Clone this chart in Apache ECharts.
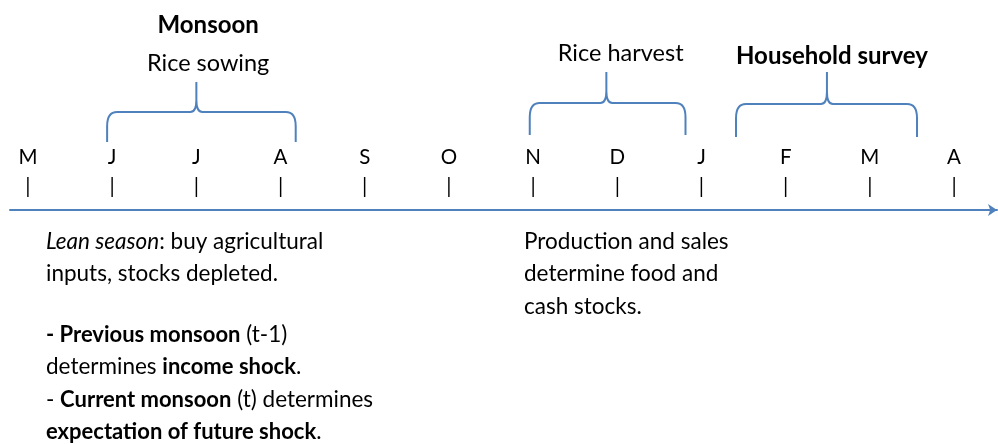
<!DOCTYPE html>
<html>
<head>
<meta charset="utf-8">
<script src="https://cdn.jsdelivr.net/npm/echarts@6/dist/echarts.min.js"></script>
<style>
  html, body { margin: 0; padding: 0; background: #fff; }
  #timeline { width: 998px; height: 444px; }
</style>
</head>
<body>
<div id="timeline"></div>
<script>
// months along the timeline (index = position on the x axis)
const months = ['M', 'J', 'J', 'A', 'S', 'O', 'N', 'D', 'J', 'F', 'M', 'A'];
const monthPos = [0, 1, 2, 3, 4, 5, 6, 7, 8, 9, 10, 11];

// braces: start / end / middle (month units), heights above the axis
const braceStart = [0.94, 5.96, 8.41];
const braceEnd = [3.18, 7.81, 10.56];
const braceMid = [2.0, 6.87, 9.49];
const braceFoot = [68, 75, 73];
const braceBar = [98, 107, 106];
const braceTip = [128, 138, 138];

// labels above each brace
const braceLabelX = [2.14, 7.04, 9.55];
const braceLabels = [
  '{b|Monsoon}\n{n|Rice sowing}',
  '{n|Rice harvest}',
  '{b|Household survey}'
];

const blue = '#4F81BD';
const font = 'Lato';

let chart = echarts.init(document.getElementById('timeline'));

const braceData = braceStart.map((s, i) => [s, braceEnd[i], braceMid[i], braceFoot[i], braceBar[i], braceTip[i], braceLabelX[i]]);

function renderBrace(params, api) {
  const i = params.dataIndex;
  const yb = api.coord([0, api.value(4)])[1];
  const yf = api.coord([0, api.value(3)])[1];
  const yt = api.coord([0, api.value(5)])[1];
  const x0 = api.coord([api.value(0), 0])[0];
  const x1 = api.coord([api.value(1), 0])[0];
  const xm = api.coord([api.value(2), 0])[0];
  const xl = api.coord([api.value(6), 0])[0];
  const rh = 10, rv = 14, mh = 6, mv = 12;
  const d =
    `M${x0},${yf} L${x0},${yb + rv} Q${x0},${yb} ${x0 + rh},${yb} L${xm - mh},${yb} Q${xm},${yb} ${xm},${yb - mv} L${xm},${yt} ` +
    `M${xm},${yb - mv} Q${xm},${yb} ${xm + mh},${yb} L${x1 - rh},${yb} Q${x1},${yb} ${x1},${yb + rv} L${x1},${yf}`;
  return {
    type: 'group',
    children: [
      {
        type: 'path',
        shape: { pathData: d },
        style: { fill: 'none', stroke: blue, lineWidth: 2 }
      },
      {
        type: 'text',
        x: xl,
        y: yt + (i === 2 ? 3 : 0),
        style: {
          text: braceLabels[i],
          align: 'center',
          verticalAlign: 'bottom',
          fill: '#000',
          rich: {
            b: { fontFamily: font, fontSize: 24, fontWeight: 'bold', lineHeight: 38, fill: '#000' },
            n: { fontFamily: font, fontSize: 23.5, lineHeight: 38, fill: '#000' }
          }
        }
      }
    ]
  };
}

const textRich = {
  n: { fontFamily: font, fontSize: 22.5, lineHeight: 32.5, fill: '#000' },
  i: { fontFamily: font, fontSize: 22.5, lineHeight: 32.5, fontStyle: 'italic', fill: '#000' },
  b: { fontFamily: font, fontSize: 22, lineHeight: 32.5, fontWeight: 'bold', fill: '#000' },
  g: { fontFamily: font, fontSize: 10, lineHeight: 28 }
};

let option = {
  animation: false,
  grid: { left: 10, right: 1, top: 0, bottom: 234 },
  xAxis: {
    type: 'value',
    min: -0.2136,
    max: 11.51,
    splitLine: { show: false },
    axisLine: {
      show: true,
      onZero: false,
      symbol: ['none', 'arrow'],
      symbolSize: [9, 9],
      lineStyle: { color: blue, width: 2 }
    },
    axisTick: { show: false },
    axisLabel: {
      show: true,
      inside: true,
      margin: 9,
      customValues: monthPos,
      formatter: (v) => '{m|' + months[Math.round(v)] + '}\n{t||}',
      rich: {
        m: { fontFamily: font, fontSize: 20.5, lineHeight: 29, color: '#000' },
        t: { fontFamily: font, fontSize: 21, lineHeight: 29, color: '#000' }
      }
    }
  },
  yAxis: { type: 'value', min: 0, max: 210, show: false },
  series: [
    {
      type: 'custom',
      renderItem: renderBrace,
      data: braceData,
      clip: false,
      silent: true
    }
  ],
  graphic: [
    {
      type: 'text',
      left: 46,
      top: 230,
      style: {
        text: '{i|Lean season}{n|: buy agricultural}\n{n|inputs, stocks depleted.}\n{g| }\n' +
              '{b|- Previous monsoon}{n| (t-1)}\n{n|determines }{b|income shock}{n|.}\n' +
              '{n|- }{b|Current monsoon}{n| (t) determines}\n{b|expectation of future shock}{n|.}',
        rich: textRich
      }
    },
    {
      type: 'text',
      left: 524,
      top: 230,
      style: {
        text: '{n|Production and sales}\n{n|determine food and}\n{n|cash stocks.}',
        rich: textRich
      }
    }
  ]
};

option && chart.setOption(option);
</script>
</body>
</html>
